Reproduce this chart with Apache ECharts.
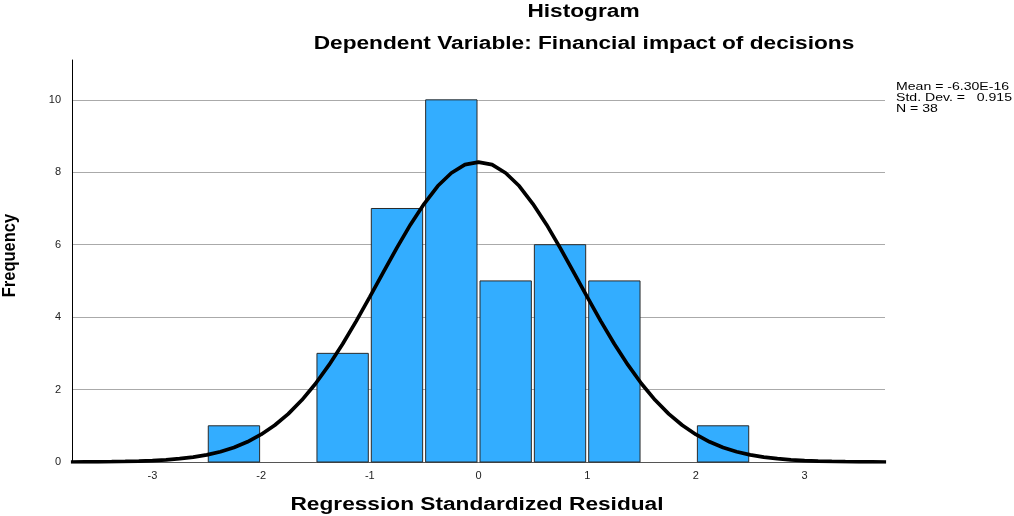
<!DOCTYPE html>
<html><head><meta charset="utf-8">
<script src="https://cdn.jsdelivr.net/npm/echarts@6/dist/echarts.min.js"></script>
<style>html,body{margin:0;padding:0;background:#fff}#c{width:1014px;height:516px}</style>
</head><body><div id="c"></div>
<script>
// Histogram bins (left edge, right edge) and frequencies
const binStart = [-2.5, -2.0, -1.5, -1.0, -0.5, 0.0, 0.5, 1.0, 1.5, 2.0];
const binEnd   = [-2.0, -1.5, -1.0, -0.5, 0.0, 0.5, 1.0, 1.5, 2.0, 2.5];
const counts   = [1, 0, 3, 7, 10, 5, 6, 5, 0, 1];
// Normal curve
const curveX = [-3.75,-3.625,-3.5,-3.375,-3.25,-3.125,-3,-2.875,-2.75,-2.625,-2.5,-2.375,-2.25,-2.125,-2,-1.875,-1.75,-1.625,-1.5,-1.375,-1.25,-1.125,-1,-0.875,-0.75,-0.625,-0.5,-0.375,-0.25,-0.125,0,0.125,0.25,0.375,0.5,0.625,0.75,0.875,1,1.125,1.25,1.375,1.5,1.625,1.75,1.875,2,2.125,2.25,2.375,2.5,2.625,2.75,2.875,3,3.125,3.25,3.375,3.5,3.625,3.75];
const curveY = [0.0,0.003,0.0055,0.009,0.015,0.024,0.038,0.059,0.091,0.135,0.198,0.285,0.40,0.558,0.76,1.015,1.33,1.71,2.16,2.68,3.26,3.89,4.56,5.24,5.92,6.56,7.13,7.62,7.98,8.21,8.28,8.21,7.98,7.62,7.13,6.56,5.92,5.24,4.56,3.89,3.26,2.68,2.16,1.71,1.33,1.015,0.76,0.558,0.40,0.285,0.198,0.135,0.091,0.059,0.038,0.024,0.015,0.009,0.0055,0.003,0.0];
const xTicks = [-3,-2,-1,0,1,2,3];
const yTicks = [0,2,4,6,8,10];
const statsLines = ['Mean = -6.30E-16', 'Std. Dev. =   0.915', 'N = 38'];
const titleText = 'Histogram';
const subtitleText = 'Dependent Variable: Financial impact of decisions';
const xName = 'Regression Standardized Residual';
const yName = 'Frequency';

const chart = echarts.init(document.getElementById('c'));
const barData = binStart.map((s,i)=>[s, binEnd[i], counts[i]]).filter(d=>d[2]>0);
const F = 'Liberation Sans, Arial, sans-serif';
const SX = 1.26;
function bigText(t, x, y, size, extra){
  return Object.assign({type:'text', x:x, y:y, scaleX:SX, style:{text:t, fontFamily:F, fontWeight:'bold', fontSize:size, fill:'#000', align:'center', verticalAlign:'middle'}}, extra||{});
}
chart.setOption({
  animation:false,
  grid:{left:72, right:129, top:60, bottom:54, outerBoundsMode:'none', containLabel:false},
  xAxis:{type:'value', min:-3.74, max:3.74,
    axisLine:{lineStyle:{color:'#555', width:1}}, axisTick:{show:false}, splitLine:{show:false},
    axisLabel:{fontFamily:F, fontSize:11, color:'#222', margin:8,
      formatter:v=>xTicks.indexOf(Math.round(v*1000)/1000)>=0 ? String(Math.round(v)) : ''}
  },
  yAxis:{type:'value', min:0, max:11.1, interval:2,
    axisLine:{show:true, onZero:false, lineStyle:{color:'#000', width:1}}, axisTick:{show:false},
    splitLine:{showMaxLine:false, lineStyle:{color:'#aaa', width:1}},
    axisLabel:{fontFamily:F, fontSize:11, color:'#222', margin:11,
      formatter:v=>yTicks.indexOf(v)>=0 ? String(v) : ''}
  },
  graphic: [
    bigText(titleText, 583.5, 12.5, 18),
    bigText(subtitleText, 584, 44, 18),
    bigText(xName, 477, 505, 18),
    {type:'text', x:10, y:255.5, rotation:Math.PI/2, scaleY:1.14,
      style:{text:yName, fontFamily:F, fontWeight:'bold', fontSize:16.5, fill:'#000', align:'center', verticalAlign:'middle'}}
  ].concat(statsLines.map((t,i)=>({type:'text', x:896, y:87+i*11, scaleX:1.28,
      style:{text:t, fontFamily:F, fontSize:11, fill:'#000', align:'left', verticalAlign:'middle'}}))),
  series:[
    {type:'custom', data:barData, encode:{x:[0,1], y:2},
      renderItem:(params, api)=>{
        const p0 = api.coord([api.value(0), api.value(2)]);
        const p1 = api.coord([api.value(1), 0]);
        return {type:'rect', shape:{x:p0[0]+1.5, y:p0[1], width:p1[0]-p0[0]-3, height:p1[1]-p0[1]},
          style:{fill:'#33adff', stroke:'#2a2a2a', lineWidth:1}};
      }, z:2},
    {type:'line', data:curveX.map((x,i)=>[x, curveY[i]]), smooth:false, showSymbol:false,
      lineStyle:{color:'#000', width:3.7}, z:3, clip:true}
  ]
});
</script></body></html>
